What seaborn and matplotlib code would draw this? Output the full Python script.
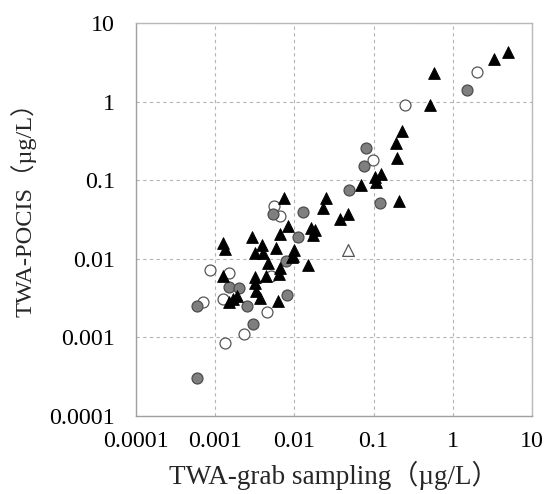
import matplotlib
matplotlib.use("Agg")
import matplotlib.pyplot as plt
import seaborn as sns
import pandas as pd

# Filled black triangles
tri_x = [5.0, 3.3, 0.58, 0.51, 0.23, 0.19, 0.20, 0.124, 0.104, 0.107, 0.069, 0.21,
         0.025, 0.023, 0.047, 0.038, 0.016, 0.018, 0.017, 0.0073, 0.0084, 0.0065,
         0.0029, 0.00125, 0.00134, 0.0039, 0.0040, 0.0032, 0.0059, 0.0099, 0.0097,
         0.0093, 0.0047, 0.015, 0.0066, 0.0063, 0.0044, 0.0032, 0.0032, 0.00124,
         0.0033, 0.0037, 0.0062, 0.0019, 0.0017, 0.0015]
tri_y = [4.35, 3.5, 2.35, 0.91, 0.42, 0.30, 0.19, 0.12, 0.11, 0.096, 0.087, 0.054,
         0.059, 0.045, 0.037, 0.032, 0.0245, 0.023, 0.020, 0.059, 0.026, 0.021,
         0.019, 0.0157, 0.0133, 0.015, 0.012, 0.012, 0.0136, 0.013, 0.011,
         0.0106, 0.0088, 0.0083, 0.0076, 0.0065, 0.0061, 0.0059, 0.0050, 0.0061,
         0.0039, 0.0032, 0.0029, 0.0034, 0.0031, 0.0028]

# Grey filled circles
grey_x = [1.5, 0.081, 0.076, 0.049, 0.12, 0.013, 0.0053, 0.011, 0.0078, 0.0015,
          0.0020, 0.0025, 0.0080, 0.0030, 0.00059, 0.00059]
grey_y = [1.4, 0.26, 0.153, 0.076, 0.052, 0.039, 0.037, 0.019, 0.0095, 0.0044,
          0.0043, 0.0025, 0.0035, 0.00147, 0.0025, 0.0003]

# Open circles
open_x = [2.05, 0.25, 0.098, 0.0055, 0.0066, 0.00085, 0.0015, 0.0050, 0.00124,
          0.00070, 0.0045, 0.0023, 0.00134]
open_y = [2.4, 0.91, 0.18, 0.047, 0.035, 0.0072, 0.0067, 0.0061, 0.0031,
          0.0028, 0.0021, 0.0011, 0.00084]

# Open triangle
otri_x = [0.047]
otri_y = [0.013]

ticks = [0.0001, 0.001, 0.01, 0.1, 1, 10]
tick_labels = ["0.0001", "0.001", "0.01", "0.1", "1", "10"]

sns.set_style("white")
plt.rcParams['font.family'] = ['Liberation Serif', 'Noto Sans CJK JP', 'DejaVu Sans']

fig = plt.figure(figsize=(5.47, 4.94), dpi=100)
ax = fig.add_axes([0.2486, 0.158, 0.724, 0.795])

df_tri = pd.DataFrame({"x": tri_x, "y": tri_y})
df_grey = pd.DataFrame({"x": grey_x, "y": grey_y})
df_open = pd.DataFrame({"x": open_x, "y": open_y})
df_otri = pd.DataFrame({"x": otri_x, "y": otri_y})

sns.scatterplot(data=df_open, x="x", y="y", ax=ax, marker="o", s=62,
                color="white", edgecolor="#555555", linewidth=0.9, zorder=3)
sns.scatterplot(data=df_grey, x="x", y="y", ax=ax, marker="o", s=62,
                color="#7f7f7f", edgecolor="#4d4d4d", linewidth=0.9, zorder=3)
sns.scatterplot(data=df_tri, x="x", y="y", ax=ax, marker="^", s=72,
                color="black", edgecolor="black", linewidth=0.6, zorder=4)
sns.scatterplot(data=df_otri, x="x", y="y", ax=ax, marker="^", s=72,
                color="white", edgecolor="#555555", linewidth=0.9, zorder=4)

ax.set_xscale("log")
ax.set_yscale("log")
ax.set_xlim(0.0001, 10)
ax.set_ylim(0.0001, 10)
ax.set_xticks(ticks)
ax.set_xticklabels(tick_labels)
ax.set_yticks(ticks)
ax.set_yticklabels(tick_labels)
ax.minorticks_off()

ax.grid(True, which="major", linestyle=(0, (3, 3)), color="#b5b5b5", linewidth=0.8)
ax.set_axisbelow(True)
for sp in ax.spines.values():
    sp.set_color("#b8b8b8")
    sp.set_linewidth(1.0)
ax.spines["left"].set_color("#a0a0a0")
ax.spines["bottom"].set_color("#a0a0a0")

ax.tick_params(axis="both", which="major", direction="out", length=6, width=0.8,
               color="#a0a0a0", labelsize=17.3, labelcolor="black")
ax.tick_params(axis="x", pad=5)
ax.tick_params(axis="y", pad=9)

ax.set_xlabel("TWA-grab sampling（µg/L）", fontsize=19.5, labelpad=6)
ax.set_ylabel("TWA-POCIS（µg/L）", fontsize=17.6)
ax.yaxis.set_label_coords(-0.252, 0.54)

fig.savefig("out.png", dpi=100)
